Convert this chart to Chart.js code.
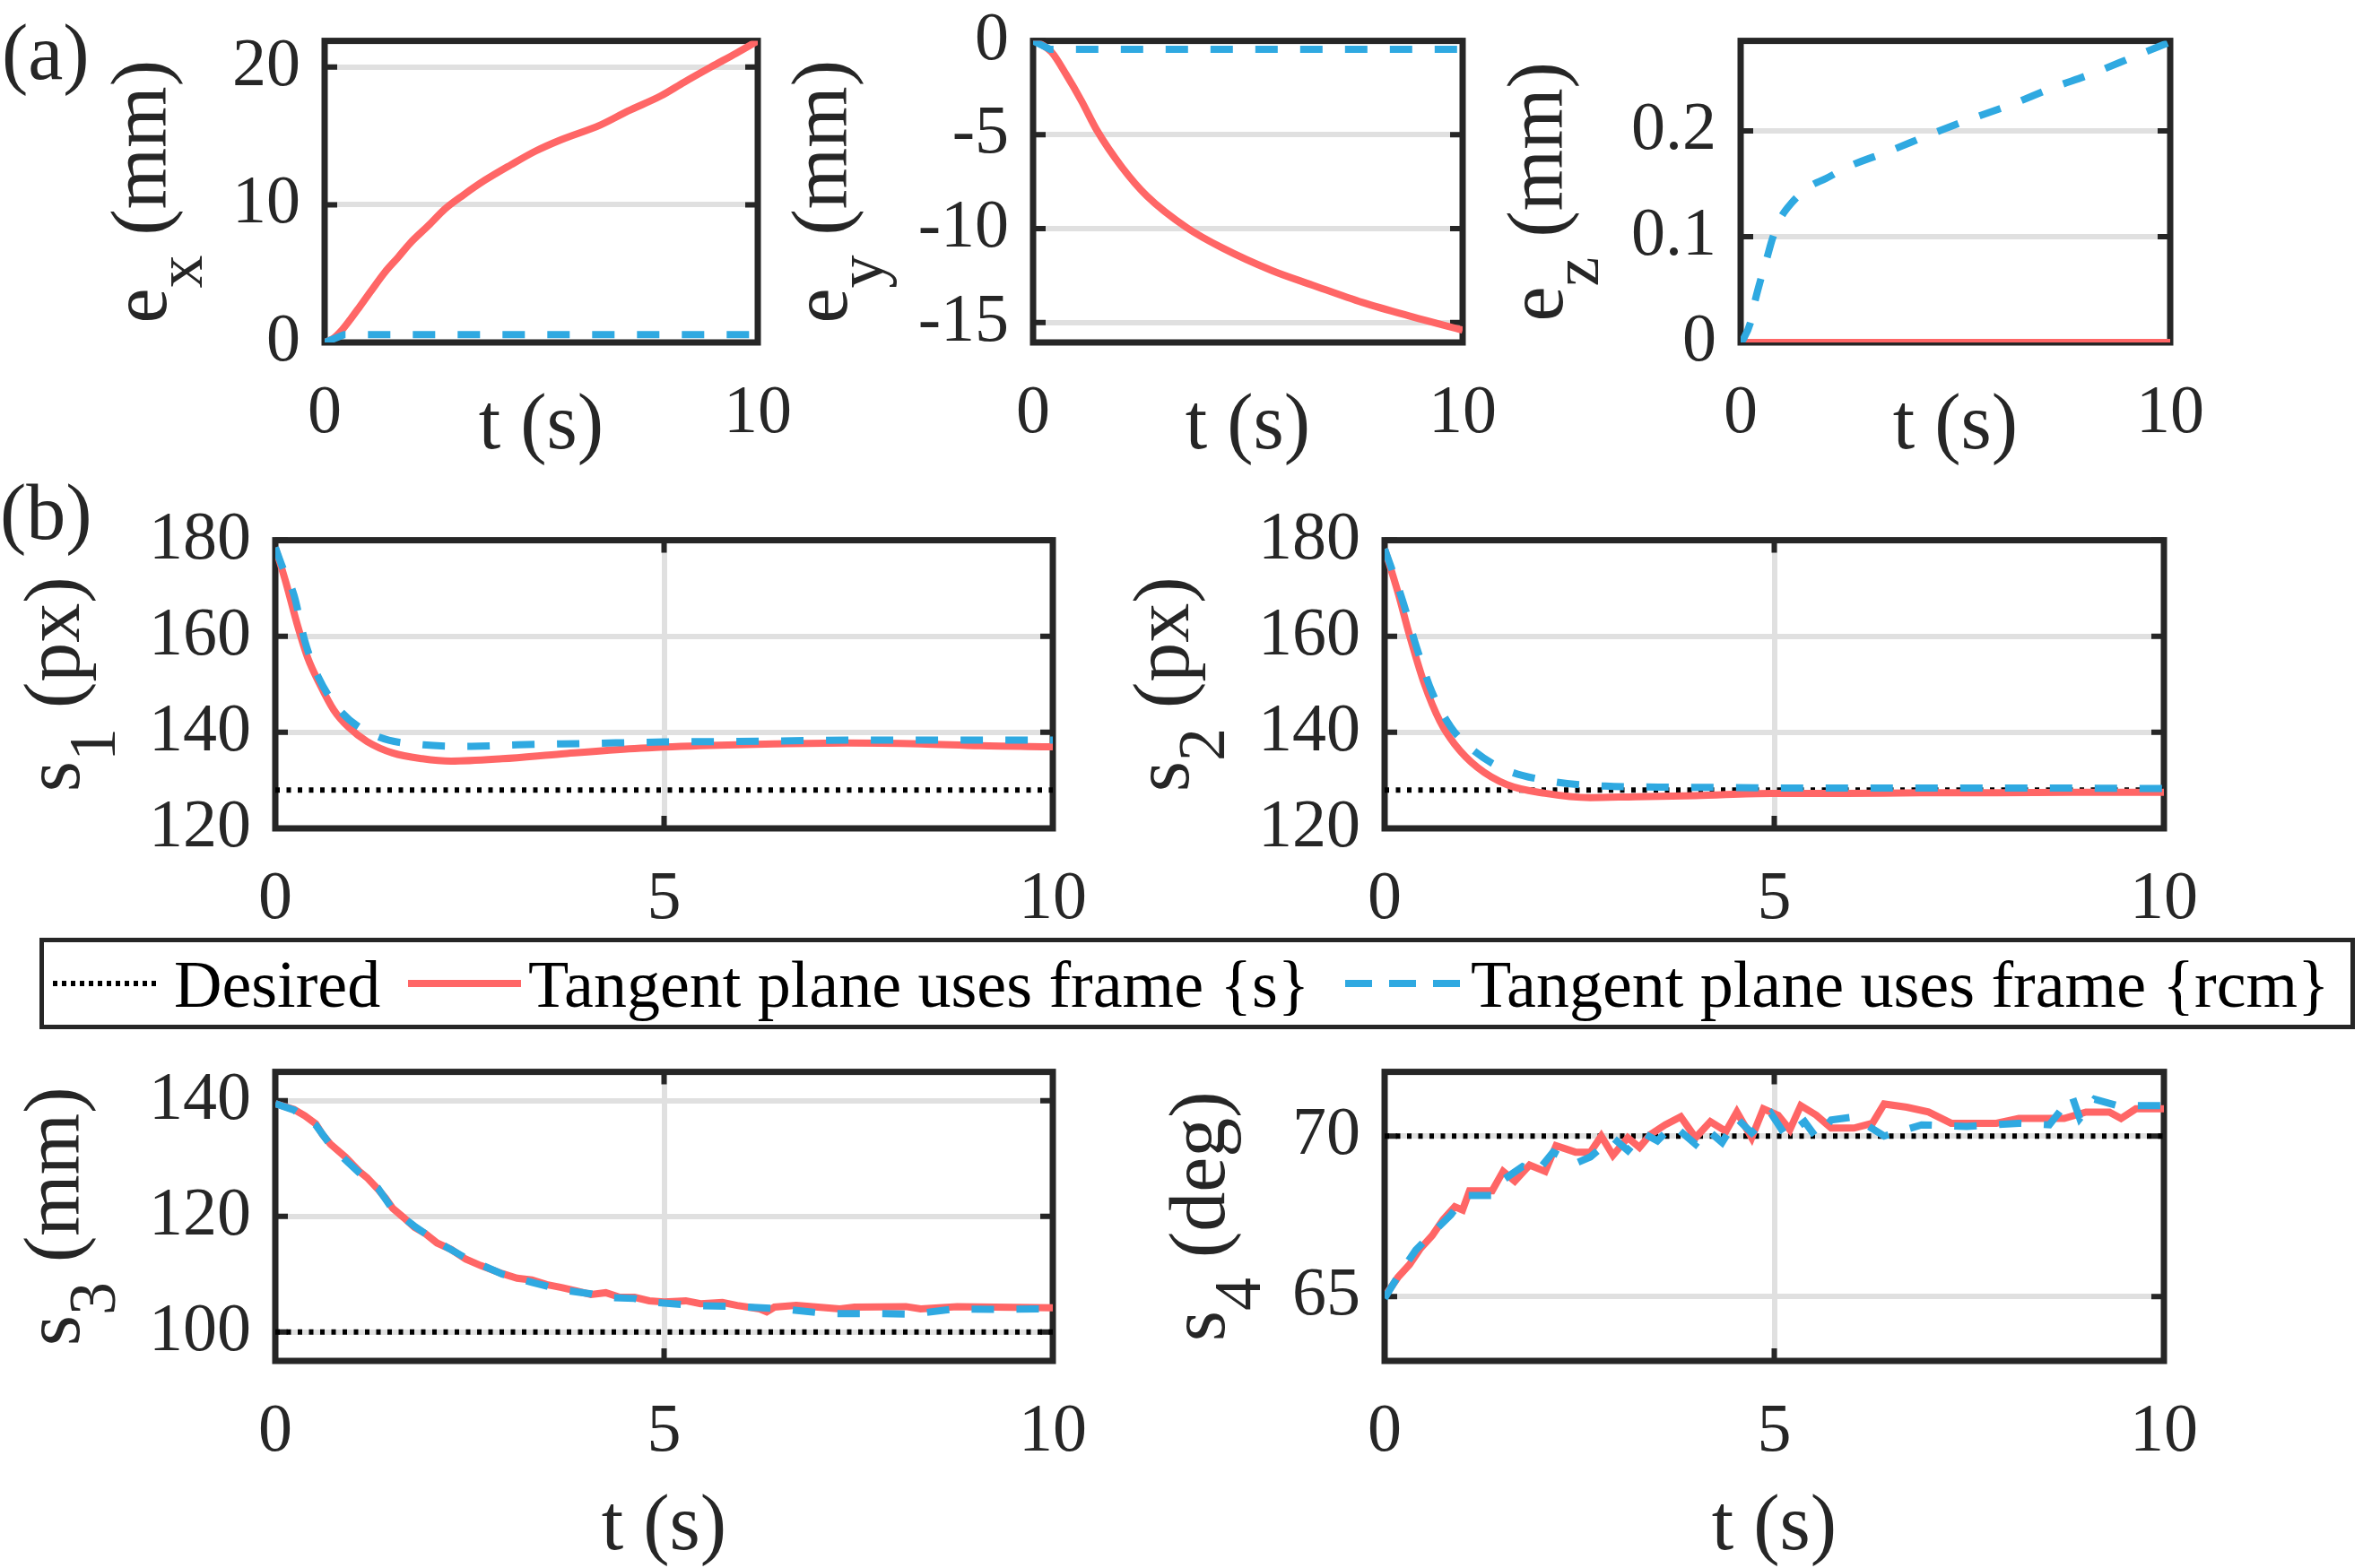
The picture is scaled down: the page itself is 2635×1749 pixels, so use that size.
<!DOCTYPE html>
<html>
<head>
<meta charset="utf-8">
<script src="https://cdn.jsdelivr.net/npm/chart.js@4.4.1/dist/chart.umd.min.js"></script>
<style>
  html, body { margin: 0; padding: 0; background: #fff; }
  body { width: 2635px; height: 1749px; position: relative; overflow: hidden;
         font-family: 'Liberation Serif', 'Times New Roman', serif; }
  .panel { position: absolute; }
  .tag { position: absolute; font-size: 88px; line-height: 88px; color: #262626; white-space: pre; }
  .legend-box { position: absolute; border: 5px solid #262626; box-sizing: border-box; }
  .legend-text { position: absolute; font-size: 74px; line-height: 74px; color: #000; white-space: pre; }
</style>
</head>
<body>
<div class="tag" style="left:2px;top:15px">(a)</div>
<div class="tag" style="left:0px;top:528px">(b)</div>
<script>
// ---- data (t in seconds) ----
const exTime = [0, 0.2, 0.4, 0.6, 0.81, 1.04, 1.39, 1.7, 1.97, 2.4, 2.78, 3.2, 3.71, 4.3, 4.87, 5.44, 6.37, 7.0, 7.76, 8.3, 8.92, 9.5, 10];
const exRed = [0, 0.3, 0.9, 1.7, 2.6, 3.6, 5.1, 6.2, 7.2, 8.5, 9.7, 10.7, 11.8, 12.9, 13.9, 14.7, 15.8, 16.8, 17.9, 18.9, 20.0, 21.0, 21.9];
const exBlueTime = [0, 0.45, 10];
const exBlue = [0, 0.57, 0.57];

const eyTime = [0, 0.08, 0.43, 0.78, 1.13, 1.48, 2.07, 2.65, 3.58, 4.4, 5.57, 6.5, 7.67, 8.83, 10];
const eyRed = [0, -0.05, -0.6, -1.83, -3.21, -4.74, -6.73, -8.26, -9.95, -11.02, -12.24, -13.0, -13.93, -14.69, -15.4];
const eyBlueTime = [0, 0.4, 10];
const eyBlue = [0, -0.45, -0.45];

const ezRedTime = [0, 10];
const ezRed = [0, 0];
const ezBlueTime = [0, 0.06, 0.23, 0.34, 0.45, 0.6, 0.74, 0.91, 1.19, 1.59, 1.99, 2.5, 3.47, 4.38, 5.34, 6.31, 7.22, 8.18, 9.15, 10];
const ezBlue = [0, 0.003, 0.019, 0.04, 0.057, 0.078, 0.098, 0.116, 0.132, 0.147, 0.155, 0.166, 0.181, 0.196, 0.211, 0.225, 0.24, 0.254, 0.27, 0.284];

const s1RedTime = [0, 0.14, 0.28, 0.42, 0.57, 0.75, 0.94, 1.18, 1.51, 1.89, 2.26, 2.92, 3.68, 4.62, 5.47, 6.42, 7.36, 8.3, 9.06, 10];
const s1Red = [178.5, 171.0, 162.6, 155.4, 150.1, 144.7, 141.1, 138.1, 135.7, 134.5, 134.0, 134.5, 135.5, 136.6, 137.2, 137.6, 137.8, 137.6, 137.2, 137.0];
const s1BlueTime = [0, 0.09, 0.24, 0.38, 0.55, 0.85, 1.29, 1.9, 2.52, 3.11, 4.06, 5.0, 5.94, 6.89, 7.83, 8.77, 10];
const s1Blue = [178.5, 174.5, 168.6, 159.0, 151.6, 144.2, 139.3, 137.4, 137.1, 137.4, 137.7, 138.0, 138.1, 138.3, 138.4, 138.4, 138.4];

const s2RedTime = [0, 0.17, 0.32, 0.51, 0.71, 0.9, 1.19, 1.57, 2.06, 2.64, 3.22, 3.99, 4.96, 5.92, 6.89, 7.86, 8.82, 10];
const s2Red = [178.2, 169.2, 160.2, 150.1, 142.3, 137.5, 132.7, 129.1, 127.3, 126.4, 126.6, 126.8, 127.3, 127.3, 127.4, 127.4, 127.5, 127.5];
const s2BlueTime = [0, 0.22, 0.42, 0.61, 0.85, 1.09, 1.48, 2.06, 2.83, 3.51, 4.47, 5.44, 6.89, 8.34, 10];
const s2Blue = [178.2, 168.0, 157.2, 148.3, 141.1, 136.9, 132.7, 130.0, 128.8, 128.6, 128.5, 128.4, 128.4, 128.4, 128.3];

const s3RedTime = [0, 0.24, 0.38, 0.52, 0.61, 0.71, 0.9, 1.08, 1.18, 1.32, 1.42, 1.51, 1.65, 1.79, 1.93, 2.08, 2.26, 2.45, 2.64, 2.92, 3.11, 3.3, 3.49, 3.68, 3.87, 4.06, 4.25, 4.43, 4.62, 4.81, 5.0, 5.28, 5.47, 5.75, 5.94, 6.23, 6.32, 6.42, 6.7, 6.98, 7.26, 7.45, 8.11, 8.3, 8.77, 9.25, 10];
const s3Red = [139.5, 138.5, 137.4, 136.0, 134.1, 132.5, 130.3, 127.8, 126.7, 124.7, 123.1, 121.4, 119.8, 118.1, 117.0, 115.4, 114.3, 112.6, 111.5, 110.1, 109.3, 109.0, 108.2, 107.7, 107.1, 106.5, 106.8, 106.0, 106.0, 105.4, 105.2, 105.4, 104.9, 105.1, 104.6, 104.0, 103.5, 104.3, 104.6, 104.3, 104.0, 104.3, 104.4, 104.0, 104.4, 104.3, 104.2];
const s3BlueTime = [0, 0.24, 0.52, 0.71, 0.9, 1.18, 1.32, 1.51, 1.79, 2.08, 2.45, 2.92, 3.3, 3.68, 4.06, 4.25, 4.62, 4.81, 5.38, 5.94, 6.51, 7.08, 7.64, 8.21, 8.73, 9.25, 10];
const s3Blue = [139.5, 138.4, 135.8, 132.3, 129.8, 126.3, 124.9, 121.2, 118.3, 115.6, 112.8, 110.0, 108.6, 107.3, 106.6, 106.0, 105.8, 105.2, 104.6, 104.4, 104.0, 103.2, 103.2, 103.1, 104.0, 103.9, 104.0];

const s4RedTime = [0, 0.17, 0.32, 0.46, 0.61, 0.75, 0.9, 1.0, 1.09, 1.38, 1.52, 1.67, 1.86, 2.06, 2.2, 2.45, 2.64, 2.78, 2.93, 3.12, 3.27, 3.41, 3.6, 3.8, 3.99, 4.18, 4.38, 4.52, 4.71, 4.86, 5.05, 5.2, 5.34, 5.54, 5.73, 6.02, 6.26, 6.41, 6.7, 6.98, 7.27, 7.85, 8.14, 8.72, 9.0, 9.3, 9.45, 9.64, 10];
const s4Red = [65.0, 65.6, 66.0, 66.5, 66.9, 67.4, 67.8, 67.7, 68.3, 68.3, 68.9, 68.6, 69.1, 68.9, 69.7, 69.5, 69.5, 70.0, 69.4, 69.95, 69.65, 70.05, 70.35, 70.6, 69.95, 70.45, 70.15, 70.75, 69.95, 70.85, 70.65, 70.2, 70.95, 70.65, 70.25, 70.25, 70.4, 71.0, 70.9, 70.75, 70.4, 70.4, 70.55, 70.55, 70.75, 70.75, 70.55, 70.85, 70.85];
const s4BlueTime = [0, 0.2, 0.4, 0.6, 0.85, 1.04, 1.38, 1.53, 1.77, 1.96, 2.16, 2.45, 2.64, 2.93, 3.12, 3.31, 3.5, 3.7, 3.99, 4.14, 4.33, 4.52, 4.71, 4.96, 5.15, 5.39, 5.54, 5.73, 6.02, 6.41, 6.89, 7.47, 8.14, 8.53, 8.82, 8.92, 9.11, 9.4, 10];
const s4Blue = [64.95, 65.75, 66.45, 66.95, 67.55, 68.15, 68.15, 68.65, 69.05, 68.9, 69.5, 69.15, 69.35, 69.95, 69.55, 70.1, 69.85, 70.35, 69.75, 70.2, 69.8, 70.55, 70.1, 70.7, 70.0, 70.45, 69.95, 70.5, 70.6, 70.0, 70.35, 70.3, 70.4, 70.35, 71.25, 70.55, 71.15, 70.95, 70.95];

const desiredTime = [0, 10];
const s1Desired = [128, 128];
const s2Desired = [128, 128];
const s3Desired = [100, 100];
const s4Desired = [70, 70];

// tick values
const aTimeTicks = [0, 10];
const bTimeTicks = [0, 5, 10];
const exTicks = [0, 10, 20];
const eyTicks = [-15, -10, -5, 0];
const ezTicks = [0, 0.1, 0.2];
const s12Ticks = [120, 140, 160, 180];
const s3Ticks = [100, 120, 140];
const s4Ticks = [65, 70];

const legendLabels = ['Desired', 'Tangent plane uses frame {s}', 'Tangent plane uses frame {rcm}'];

// ---- styles ----
const FONT = '"Liberation Serif", "Times New Roman", serif';
const axisColor = '#262626';
const redColor = '#ff6666';
const blueColor = '#2fa9e1';
const desiredColor = '#000000';
const gridColor = '#e0e0e0';

Chart.defaults.font.family = FONT;

const red = (t, v, smooth) => ({ t, v, color: redColor, width: 8, order: 1, smooth });
const blue = (t, v, smooth) => ({ t, v, color: blueColor, width: 8, dash: [25, 25], order: 0, smooth });
const desired = (t, v) => ({ t, v, color: desiredColor, width: 6, dash: [5, 7.5], order: 2 });

const panels = [
  { area: [362, 33, 857, 382], yMin: 0, yMax: 21.9, yTicks: exTicks, xTicks: aTimeTicks,
    yTitle: [['e', 0], ['x', 1], [' (mm)', 0]], yTitleX: 185, xTitleY: 500,
    series: [red(exTime, exRed, true), blue(exBlueTime, exBlue)] },
  { area: [1152, 33, 1643, 382], yMin: -16.06, yMax: 0, yTicks: eyTicks, xTicks: aTimeTicks,
    yTitle: [['e', 0], ['y', 1], [' (mm)', 0]], yTitleX: 944, xTitleY: 500,
    series: [red(eyTime, eyRed, true), blue(eyBlueTime, eyBlue)] },
  { area: [1941, 33, 2432, 382], yMin: 0, yMax: 0.285, yTicks: ezTicks, xTicks: aTimeTicks,
    yTitle: [['e', 0], ['z', 1], [' (mm)', 0]], yTitleX: 1742, xTitleY: 500,
    series: [red(ezRedTime, ezRed), blue(ezBlueTime, ezBlue, true)] },
  { area: [307, 590, 1186, 924], yMin: 120, yMax: 180, yTicks: s12Ticks, xTicks: bTimeTicks,
    yTitle: [['s', 0], ['1', 1], [' (px)', 0]], yTitleX: 88,
    series: [desired(desiredTime, s1Desired), red(s1RedTime, s1Red, true), blue(s1BlueTime, s1Blue, true)] },
  { area: [1544, 590, 2425, 924], yMin: 120, yMax: 180, yTicks: s12Ticks, xTicks: bTimeTicks,
    yTitle: [['s', 0], ['2', 1], [' (px)', 0]], yTitleX: 1325,
    series: [desired(desiredTime, s2Desired), red(s2RedTime, s2Red, true), blue(s2BlueTime, s2Blue, true)] },
  { area: [307, 1183, 1186, 1518], yMin: 95, yMax: 145, yTicks: s3Ticks, xTicks: bTimeTicks,
    yTitle: [['s', 0], ['3', 1], [' (mm)', 0]], yTitleX: 88, xTitleY: 1728,
    series: [desired(desiredTime, s3Desired), red(s3RedTime, s3Red), blue(s3BlueTime, s3Blue)] },
  { area: [1544, 1183, 2425, 1518], yMin: 63, yMax: 72, yTicks: s4Ticks, xTicks: bTimeTicks,
    yTitle: [['s', 0], ['4', 1], [' (deg)', 0]], yTitleX: 1365, xTitleY: 1728,
    series: [desired(desiredTime, s4Desired), red(s4RedTime, s4Red), blue(s4BlueTime, s4Blue)] }
];

// box, inward ticks and axis titles in the MATLAB style
function boxPlugin(p, offX, offY) {
  return {
    id: 'matlabBox',
    beforeDatasetsDraw(chart) {
      const { ctx, chartArea: a, scales: { x, y } } = chart;
      ctx.save();
      ctx.strokeStyle = axisColor;
      ctx.lineWidth = 6;
      ctx.beginPath();
      p.xTicks.forEach(v => {
        const px = x.getPixelForValue(v);
        ctx.moveTo(px, a.top); ctx.lineTo(px, a.top + 14);
        ctx.moveTo(px, a.bottom); ctx.lineTo(px, a.bottom - 14);
      });
      p.yTicks.forEach(v => {
        const py = y.getPixelForValue(v);
        ctx.moveTo(a.left, py); ctx.lineTo(a.left + 14, py);
        ctx.moveTo(a.right, py); ctx.lineTo(a.right - 14, py);
      });
      ctx.stroke();
      ctx.lineWidth = 7;
      ctx.strokeRect(a.left, a.top, a.right - a.left, a.bottom - a.top);
      ctx.restore();
    },
    afterDraw(chart) {
      const { ctx, chartArea: a } = chart;
      const mainFont = '88px ' + FONT;
      const subFont = '74px ' + FONT;
      ctx.save();
      ctx.fillStyle = axisColor;
      ctx.textBaseline = 'alphabetic';
      // y title, rotated, with subscript
      let total = 0;
      const widths = p.yTitle.map(([txt, sub]) => {
        ctx.font = sub ? subFont : mainFont;
        const w = ctx.measureText(txt).width;
        total += w;
        return w;
      });
      ctx.translate(p.yTitleX - offX, (a.top + a.bottom) / 2);
      ctx.rotate(-Math.PI / 2);
      ctx.textAlign = 'left';
      let pos = -total / 2;
      p.yTitle.forEach(([txt, sub], i) => {
        ctx.font = sub ? subFont : mainFont;
        ctx.fillText(txt, pos, sub ? 40 : 0);
        pos += widths[i];
      });
      ctx.restore();
      if (p.xTitleY) {
        ctx.save();
        ctx.fillStyle = axisColor;
        ctx.font = mainFont;
        ctx.textAlign = 'center';
        ctx.textBaseline = 'alphabetic';
        ctx.fillText('t (s)', (a.left + a.right) / 2, p.xTitleY - offY);
        ctx.restore();
      }
    }
  };
}

function buildPanel(p) {
  const L = 300, T = 60, R = 60, B = 240;
  const [x0, y0, x1, y1] = p.area;
  const offX = x0 - L, offY = y0 - T;
  const wrap = document.createElement('div');
  wrap.className = 'panel';
  wrap.style.left = offX + 'px';
  wrap.style.top = offY + 'px';
  wrap.style.width = (x1 - x0 + L + R) + 'px';
  wrap.style.height = (y1 - y0 + T + B) + 'px';
  const cv = document.createElement('canvas');
  wrap.appendChild(cv);
  document.body.appendChild(wrap);

  const tickFont = { size: 76, family: FONT };
  new Chart(cv, {
    type: 'line',
    data: {
      datasets: p.series.map(s => ({
        data: s.t.map((t, i) => ({ x: t, y: s.v[i] })),
        borderColor: s.color,
        borderWidth: s.width,
        borderDash: s.dash || [],
        pointRadius: 0,
        fill: false,
        tension: 0,
        cubicInterpolationMode: s.smooth ? 'monotone' : 'default',
        order: s.order
      }))
    },
    options: {
      responsive: true,
      maintainAspectRatio: false,
      animation: false,
      events: [],
      layout: { padding: { top: T, right: R, left: 0, bottom: 0 } },
      plugins: { legend: { display: false }, tooltip: { enabled: false } },
      scales: {
        x: {
          type: 'linear', min: 0, max: 10,
          afterBuildTicks: s => { s.ticks = p.xTicks.map(v => ({ value: v })); },
          afterFit: s => { s.height = B; },
          grid: { color: gridColor, lineWidth: 6, drawTicks: false },
          border: { display: false },
          ticks: { padding: 34, font: tickFont, color: axisColor, maxRotation: 0, autoSkip: false,
                   callback: v => String(v) }
        },
        y: {
          type: 'linear', min: p.yMin, max: p.yMax,
          afterBuildTicks: s => { s.ticks = p.yTicks.map(v => ({ value: v })); },
          afterFit: s => { s.width = L; },
          grid: { color: gridColor, lineWidth: 6, drawTicks: false },
          border: { display: false },
          ticks: { padding: 27, font: tickFont, color: axisColor, autoSkip: false,
                   callback: v => String(v) }
        }
      }
    },
    plugins: [boxPlugin(p, offX, offY)]
  });
}

panels.forEach(buildPanel);

// legend across the figure
function buildLegend() {
  const box = document.createElement('div');
  box.className = 'legend-box';
  box.style.cssText = 'left:44px;top:1046px;width:2582px;height:102px;';
  document.body.appendChild(box);

  const samples = [
    { x: [59, 177], color: desiredColor, width: 6, dash: '5 5' },
    { x: [455, 581], color: redColor, width: 8, dash: '' },
    { x: [1500, 1630], color: blueColor, width: 8, dash: '30 19' }
  ];
  const textX = [194, 589, 1640];
  const svgNS = 'http://www.w3.org/2000/svg';
  const svg = document.createElementNS(svgNS, 'svg');
  svg.setAttribute('width', 1700);
  svg.setAttribute('height', 40);
  svg.style.cssText = 'position:absolute;left:0;top:1077px;';
  samples.forEach(s => {
    const ln = document.createElementNS(svgNS, 'line');
    ln.setAttribute('x1', s.x[0]); ln.setAttribute('x2', s.x[1]);
    ln.setAttribute('y1', 20); ln.setAttribute('y2', 20);
    ln.setAttribute('stroke', s.color);
    ln.setAttribute('stroke-width', s.width);
    if (s.dash) ln.setAttribute('stroke-dasharray', s.dash);
    svg.appendChild(ln);
  });
  document.body.appendChild(svg);

  legendLabels.forEach((txt, i) => {
    const d = document.createElement('div');
    d.className = 'legend-text';
    d.style.left = textX[i] + 'px';
    d.style.top = '1061px';
    d.textContent = txt;
    document.body.appendChild(d);
  });
}
buildLegend();
</script>
</body>
</html>
